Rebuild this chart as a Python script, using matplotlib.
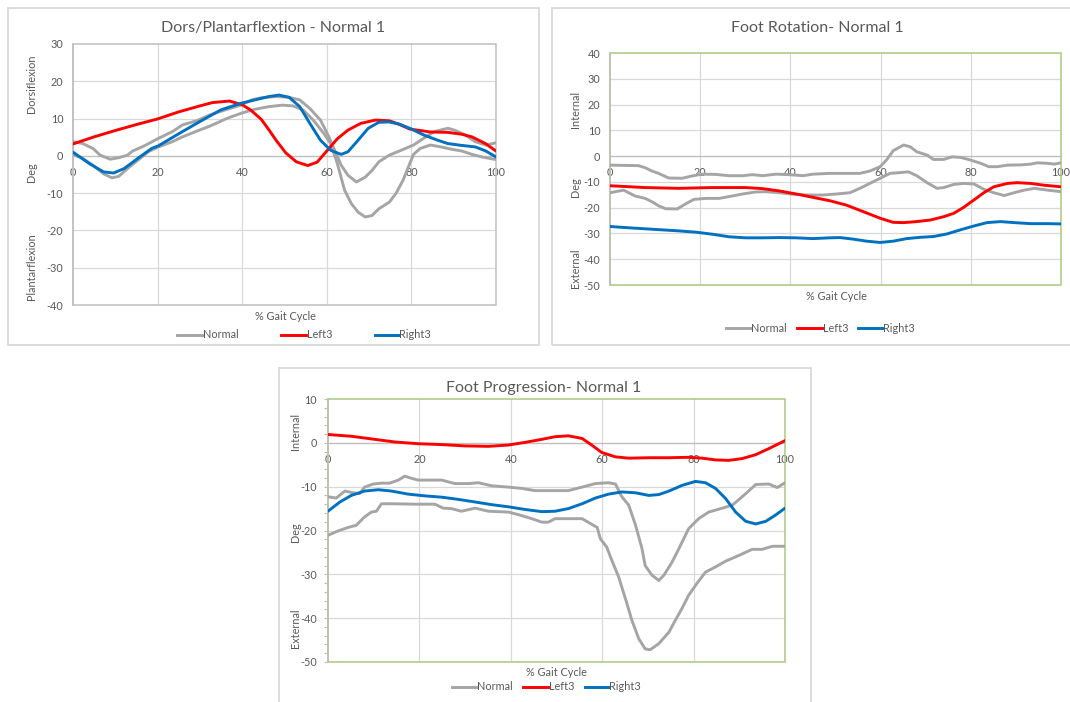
import matplotlib
matplotlib.use("Agg")
import matplotlib.pyplot as plt
from matplotlib.patches import Rectangle
from matplotlib.lines import Line2D
from matplotlib.ticker import MultipleLocator

plt.rcParams['font.family'] = ['Lato', 'DejaVu Sans']

# ---------------------------------------------------------------- data
gait_ticks = [0, 20, 40, 60, 80, 100]
series_names = ["Normal", "Left3", "Right3"]

# Dorsi / plantarflexion (deg)
dp_yticks = [30, 20, 10, 0, -10, -20, -30, -40]
dp_normal_a_x = [0, 2.3, 4.7, 6.4, 8.8, 10.8, 12.9, 14.1, 16.9, 20.2, 23.5, 25.9, 29.2, 32.4, 36.5, 39.7,
                 42.2, 44.6, 47.9, 51.1, 53.6, 56, 58.5, 60.5, 62.2, 63.4, 65, 67, 69.1, 70.7, 72.3, 74.8,
                 78, 80.5, 82.9, 85.4, 88.6, 90.2, 92.7, 95.1, 97.6, 100]
dp_normal_a_y = [3.8, 3.3, 2.0, 0.2, -0.9, -0.5, 0.2, 1.3, 2.7, 4.7, 6.5, 8.3, 9.4, 11.0, 12.5, 13.6,
                 15.0, 15.6, 15.9, 15.7, 15.0, 12.7, 9.6, 5.1, 0.6, -2.5, -5.2, -7.0, -5.7, -3.9, -1.6, 0.2,
                 1.7, 2.9, 4.7, 6.5, 7.4, 6.9, 5.6, 3.8, 2.9, 3.5]
dp_normal_b_x = [0, 2.3, 4.7, 7.2, 9.2, 10.8, 12.9, 15.3, 17.8, 20.2, 23.5, 25.9, 29.2, 32.4, 36.5, 39.7,
                 43, 46.3, 49.5, 52, 54.4, 56.8, 59.3, 60.9, 62.5, 64.2, 65.8, 67.4, 69.1, 70.7, 72.3,
                 74.8, 76.4, 78, 79.6, 80.5, 82.1, 84.5, 87, 89.4, 91.9, 94.3, 96.7, 100]
dp_normal_b_y = [0.4, -0.7, -2.5, -4.8, -5.9, -5.5, -3.4, -1.2, 1.1, 2.4, 3.8, 5.1, 6.6, 8.0, 10.1, 11.4,
                 12.5, 13.2, 13.6, 13.4, 12.3, 9.6, 6.0, 3.3, -2.1, -9.2, -12.8, -15.1, -16.4, -16.0, -14.2,
                 -12.4, -10.0, -6.6, -2.1, 0.4, 2.0, 2.9, 2.4, 1.8, 1.3, 0.4, -0.3, -1.0]
dp_left_x = [0, 5, 10, 15, 20, 25, 30, 33, 37, 40, 42, 44.5, 46.3, 48, 50.3, 52.8, 55.5, 57.7, 60, 62.5,
             65, 68, 71.5, 74.8, 77, 79.6, 84.5, 88.6, 91.9, 94.3, 97.5, 100]
dp_left_y = [3.2, 5.1, 6.8, 8.4, 9.9, 11.8, 13.4, 14.3, 14.7, 13.7, 12.3, 9.8, 7.0, 4.2, 0.8, -1.6, -2.6,
             -1.7, 1.3, 4.6, 6.9, 8.7, 9.6, 9.4, 8.5, 7.2, 6.4, 6.3, 5.8, 5.1, 3.3, 1.3]
dp_right_x = [0, 3.9, 7.2, 9.6, 12.1, 15.3, 18.6, 20.2, 25.1, 30, 34.9, 39.7, 43, 46.3, 48.7, 51.1, 53.6,
              56, 58.5, 60.9, 63.4, 65, 67.4, 69.8, 72.3, 74.7, 77.2, 79.6, 82.9, 86.2, 88.6, 91.9, 95.1,
              97.6, 100]
dp_right_y = [1.0, -2.1, -4.3, -4.6, -3.4, -0.7, 2.0, 2.7, 6.0, 9.2, 12.3, 14.1, 15.0, 15.9, 16.3, 15.7,
              13.2, 8.7, 4.2, 1.5, 0.4, 1.1, 4.2, 7.4, 9.0, 9.1, 8.5, 7.4, 5.6, 4.2, 3.3, 2.8, 2.4, 1.3, -0.3]

# Foot rotation (deg)
fr_yticks = [40, 30, 20, 10, 0, -10, -20, -30, -40, -50]
fr_normal_a_x = [0, 3.3, 6.3, 7.8, 9.3, 10.8, 13, 16, 18.2, 20.4, 23.4, 26.4, 29.4, 31.6, 33.8, 36.8, 39.8,
                 42.8, 45, 48.7, 52.4, 55.4, 57.6, 59.9, 61.3, 62.8, 65.1, 66.6, 68, 70.3, 71.7, 74, 75.8,
                 77.7, 79.9, 82.2, 84, 85.9, 88.1, 91.1, 93.3, 94.8, 97, 98.5, 100]
fr_normal_a_y = [-3.5, -3.6, -3.7, -4.5, -5.8, -6.7, -8.5, -8.6, -7.7, -7.0, -7.1, -7.6, -7.6, -7.2, -7.6,
                 -7.0, -7.2, -7.6, -7.0, -6.7, -6.7, -6.7, -5.8, -4.1, -1.5, 2.1, 4.3, 3.6, 1.7, 0.4, -1.3,
                 -1.3, -0.3, -0.5, -1.5, -2.8, -4.1, -4.1, -3.5, -3.4, -3.1, -2.6, -2.8, -3.1, -2.6]
fr_normal_b_x = [0, 3, 5.6, 7.8, 9.3, 10.8, 12.3, 14.9, 16.7, 18.6, 21.2, 24.2, 26.4, 29.4, 32.3, 34.6,
                 37.5, 40.5, 44.2, 47.2, 50.2, 53.2, 55.4, 57.6, 59.9, 62.1, 64.3, 66.2, 68, 70.3, 72.5,
                 74, 76.2, 78.4, 80.7, 82.9, 85.1, 87.4, 89.6, 91.8, 94.1, 97, 100]
fr_normal_b_y = [-14.2, -13.2, -15.5, -16.4, -17.7, -19.3, -20.4, -20.5, -18.6, -16.8, -16.4, -16.4, -15.7,
                 -14.7, -13.9, -13.8, -14.2, -14.8, -15.1, -15.1, -14.7, -14.2, -12.5, -10.6, -8.6, -6.7,
                 -6.4, -6.1, -7.6, -10.3, -12.5, -12.2, -11.0, -10.6, -10.8, -12.9, -14.2, -15.3, -14.2,
                 -13.2, -12.5, -13.2, -13.8]
fr_left_x = [0, 7.8, 15.2, 22.7, 30.1, 33.8, 37.5, 41.3, 45, 48.7, 52.4, 56.1, 59.9, 62.8, 65.1, 68, 71,
             74, 76.2, 78.4, 80.7, 82.9, 85.1, 88.1, 90.3, 93.3, 96.3, 100]
fr_left_y = [-11.5, -12.2, -12.5, -12.2, -12.2, -12.6, -13.5, -14.7, -16.0, -17.3, -19.0, -21.5, -24.1,
             -25.7, -25.8, -25.4, -24.8, -23.5, -22.2, -19.9, -17.0, -14.2, -11.9, -10.6, -10.3, -10.6,
             -11.3, -11.9]
fr_right_x = [0, 4.1, 7.8, 11.5, 15.2, 19, 22.7, 26.4, 30.1, 33.8, 37.5, 41.3, 45, 48.7, 51, 53.9, 56.9,
              59.9, 62.8, 65.8, 68.8, 71.7, 74.7, 77.7, 80.7, 83.6, 86.6, 89.6, 93.3, 97, 100]
fr_right_y = [-27.3, -27.8, -28.2, -28.6, -29.0, -29.5, -30.3, -31.3, -31.7, -31.7, -31.6, -31.7, -32.0,
              -31.7, -31.6, -32.2, -33.0, -33.5, -33.0, -32.0, -31.5, -31.2, -30.2, -28.6, -27.1, -25.8,
              -25.4, -25.8, -26.2, -26.2, -26.3]

# Foot progression (deg)
fp_yticks = [10, 0, -10, -20, -30, -40, -50]
fp_normal_a_x = [0, 1.8, 3.7, 5.5, 6.9, 8, 9.9, 11.7, 13.5, 15.4, 16.8, 18.3, 19.7, 21.9, 24.9, 26.3, 27.8,
                 30.7, 32.9, 35.8, 39.5, 42.4, 45.3, 49.7, 52.6, 55.6, 58.5, 61.4, 62.9, 64.3, 65.8, 67.3,
                 68.7, 69.4, 70.9, 72.4, 73.5, 75.3, 76.8, 78.9, 81.1, 83.3, 86.3, 88.5, 91.4, 93.6, 96.5,
                 98.3, 100]
fp_normal_a_y = [-12.3, -12.6, -11.0, -11.4, -11.6, -10.1, -9.4, -9.2, -9.2, -8.5, -7.6, -8.1, -8.5, -8.5,
                 -8.5, -8.9, -9.3, -9.3, -9.1, -9.8, -10.1, -10.4, -10.9, -10.9, -10.9, -10.1, -9.3, -9.1,
                 -9.4, -12.3, -14.2, -18.8, -24.1, -28.0, -30.2, -31.4, -30.2, -27.2, -24.1, -19.6, -17.3,
                 -15.8, -14.9, -14.2, -11.6, -9.5, -9.4, -10.2, -9.1]
fp_normal_b_x = [0, 2.2, 4.4, 6.2, 8, 9.5, 10.6, 11.7, 14.6, 19, 23.4, 25.2, 27, 29.2, 32.2, 35.1, 39.5,
                 41.7, 44.6, 46.8, 48.2, 49.7, 52.6, 55.6, 57.4, 58.9, 59.6, 61, 62.1, 63.6, 65.1, 66.5, 68,
                 69.4, 70.5, 72.4, 74.6, 76, 77.5, 78.9, 80.7, 82.6, 84.8, 87, 89.9, 92.8, 95, 97.2, 100]
fp_normal_b_y = [-21.1, -20.1, -19.3, -18.8, -16.9, -15.8, -15.6, -13.9, -13.9, -14.0, -14.0, -14.9, -15.0,
                 -15.6, -14.9, -15.6, -15.8, -16.4, -17.3, -18.1, -18.1, -17.3, -17.3, -17.3, -18.4, -19.3,
                 -21.9, -23.8, -26.8, -30.6, -35.6, -40.5, -44.7, -47.0, -47.2, -45.8, -43.2, -40.5, -37.7,
                 -34.8, -32.1, -29.5, -28.3, -27.0, -25.7, -24.3, -24.3, -23.6, -23.6]
fp_left_x = [0, 5.1, 10.2, 14.6, 19.7, 24.9, 30, 35.1, 39.5, 43.1, 46.8, 49.7, 52.6, 55.6, 57.7, 59.9,
             62.9, 65.8, 70.2, 74.6, 78.9, 81.9, 84.8, 87.7, 90.6, 93.6, 96.5, 100]
fp_left_y = [1.9, 1.5, 0.8, 0.2, -0.2, -0.4, -0.7, -0.8, -0.5, 0.1, 0.8, 1.4, 1.6, 1.0, -0.5, -2.2, -3.2,
             -3.5, -3.4, -3.4, -3.3, -3.5, -3.9, -4.0, -3.6, -2.7, -1.3, 0.5]
fp_right_x = [0, 2.6, 5.1, 8, 11, 13.9, 17.5, 21.2, 24.9, 28.5, 32.2, 35.8, 39.5, 43.1, 46.8, 49.7, 52.6,
              55.6, 58.5, 61.4, 64.3, 67.3, 70.2, 72.4, 74.6, 77.5, 80.4, 82.6, 84.8, 87, 89.2, 91.4,
              93.6, 95.8, 97.9, 100]
fp_right_y = [-15.6, -13.5, -12.0, -11.0, -10.7, -11.0, -11.7, -12.1, -12.4, -12.9, -13.5, -14.1, -14.6,
              -15.2, -15.7, -15.6, -15.0, -13.9, -12.6, -11.7, -11.2, -11.4, -12.0, -11.8, -11.0, -9.7,
              -8.8, -9.1, -10.4, -12.7, -15.8, -17.9, -18.5, -17.9, -16.5, -14.9]

# ---------------------------------------------------------------- style
W, H = 1070, 702
TXT = "#595959"
GRID = "#D9D9D9"
AXIS = "#BFBFBF"
GREEN = "#A9C87E"
C_NORMAL, C_LEFT, C_RIGHT = "#A5A5A5", "#FF0000", "#0070C0"
LW = 2.1

fig = plt.figure(figsize=(W / 100, H / 100), dpi=100)
fig.patch.set_facecolor("white")


def fx(px):
    return px / W


def fy(py):
    return 1 - py / H


def ftext(x, y, s, **kw):
    kw.setdefault("color", TXT)
    fig.text(fx(x), fy(y), s, **kw)


def draw_panel(frame, plot, ylim, yticks, title, title_xy, ylabels, xlabel_xy,
               legend, normal, left, right, border, left_ticks=False):
    # outer chart frame
    fl, ft, fr, fb = frame
    fig.add_artist(Rectangle((fx(fl), fy(fb)), fx(fr) - fx(fl), fy(ft) - fy(fb),
                             transform=fig.transFigure, fill=False, ec=GRID, lw=1.3))
    l, t, r, b = plot
    ax = fig.add_axes([fx(l), fy(b), fx(r) - fx(l), fy(t) - fy(b)])
    ax.set_xlim(0, 100)
    ax.set_ylim(*ylim)
    ax.set_facecolor("white")

    for x in gait_ticks[1:-1]:
        ax.axvline(x, color=GRID, lw=0.9, zorder=1)
    for y in yticks:
        if y not in ylim and y != 0:
            ax.axhline(y, color=GRID, lw=0.9, zorder=1)

    for s in ax.spines.values():
        s.set_visible(False)
    # plot-area border
    ax.add_patch(Rectangle((0, 0), 1, 1, transform=ax.transAxes, fill=False,
                           ec=border, lw=1.1, clip_on=False, zorder=2))
    # horizontal axis crossing at zero
    ax.spines["bottom"].set_visible(True)
    ax.spines["bottom"].set_position(("data", 0))
    ax.spines["bottom"].set_color(AXIS)
    ax.spines["bottom"].set_linewidth(1.0)
    ax.spines["left"].set_visible(True)
    ax.spines["left"].set_color(AXIS)
    ax.spines["left"].set_linewidth(1.1)
    ax.spines["left"].set_zorder(3)

    ax.set_xticks(gait_ticks)
    ax.set_xticklabels([str(v) for v in gait_ticks])
    ax.set_yticks(yticks)
    ax.set_yticklabels([str(v) for v in yticks])
    ax.tick_params(axis="x", length=0, pad=8, labelsize=7.8, labelcolor=TXT)
    if left_ticks:
        ax.yaxis.set_minor_locator(MultipleLocator(2))
        ax.tick_params(axis="y", which="both", direction="out", length=3,
                       width=0.8, color=AXIS, pad=5, labelsize=7.8, labelcolor=TXT)
    else:
        ax.tick_params(axis="y", length=0, pad=7, labelsize=7.8, labelcolor=TXT)

    for xs, ys in normal:
        ax.plot(xs, ys, color=C_NORMAL, lw=LW, zorder=4, solid_capstyle="round")
    ax.plot(left[0], left[1], color=C_LEFT, lw=LW, zorder=5, solid_capstyle="round")
    ax.plot(right[0], right[1], color=C_RIGHT, lw=LW, zorder=6, solid_capstyle="round")

    ftext(title_xy[0], title_xy[1], title, fontsize=11.5, ha="center", va="center")
    ftext(xlabel_xy[0], xlabel_xy[1], "% Gait Cycle", fontsize=7.8, ha="center", va="center")
    for (x, y, s) in ylabels:
        ftext(x, y, s, fontsize=7.8, rotation=90, ha="center", va="center")

    colors = [C_NORMAL, C_LEFT, C_RIGHT]
    for (x0, x1, y), name, c in zip(legend, series_names, colors):
        fig.add_artist(Line2D([fx(x0), fx(x1)], [fy(y), fy(y)], transform=fig.transFigure,
                              color=c, lw=LW))
        ftext(x1 + 0.5, y, name, fontsize=7.8, ha="left", va="center")
    return ax


draw_panel(frame=(8, 8, 539, 345), plot=(73, 44, 496, 305), ylim=(-40, 30), yticks=dp_yticks,
           title="Dors/Plantarflextion - Normal 1", title_xy=(273, 28),
           ylabels=[(32, 84, "Dorsiflexion"), (32, 172, "Deg"), (32, 267, "Plantarflexion")],
           xlabel_xy=(285, 316),
           legend=[(177, 202, 335), (281, 306, 335), (375, 399, 335)],
           normal=[(dp_normal_a_x, dp_normal_a_y), (dp_normal_b_x, dp_normal_b_y)],
           left=(dp_left_x, dp_left_y), right=(dp_right_x, dp_right_y), border=AXIS)

draw_panel(frame=(552, 8, 1076, 345), plot=(610, 53, 1061, 285), ylim=(-50, 40), yticks=fr_yticks,
           title="Foot Rotation- Normal 1", title_xy=(817, 28),
           ylabels=[(576, 110, "Internal"), (576, 187, "Deg"), (576, 268, "External")],
           xlabel_xy=(836, 296),
           legend=[(726, 750, 328), (797, 822, 328), (858, 883, 328)],
           normal=[(fr_normal_a_x, fr_normal_a_y), (fr_normal_b_x, fr_normal_b_y)],
           left=(fr_left_x, fr_left_y), right=(fr_right_x, fr_right_y), border=GREEN)

draw_panel(frame=(279, 368, 811, 708), plot=(328, 399, 785, 662), ylim=(-50, 10), yticks=fp_yticks,
           title="Foot Progression- Normal 1", title_xy=(544, 388),
           ylabels=[(296, 431, "Internal"), (296, 532, "Deg"), (296, 628, "External")],
           xlabel_xy=(556, 673),
           legend=[(452, 477, 687), (523, 548, 687), (585, 609, 687)],
           normal=[(fp_normal_a_x, fp_normal_a_y), (fp_normal_b_x, fp_normal_b_y)],
           left=(fp_left_x, fp_left_y), right=(fp_right_x, fp_right_y), border=GREEN,
           left_ticks=True)

fig.savefig("out.png", dpi=100, facecolor="white")
